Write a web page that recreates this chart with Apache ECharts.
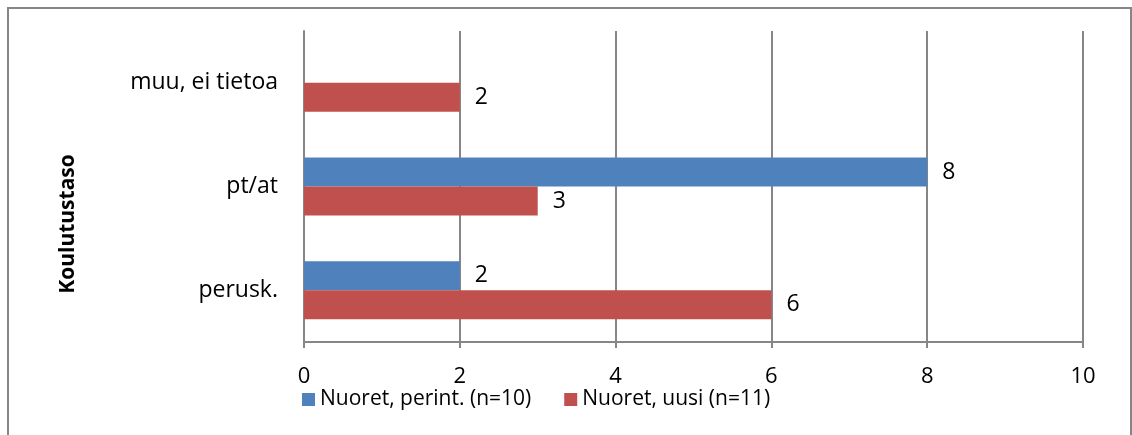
<!DOCTYPE html>
<html>
<head>
<meta charset="utf-8">
<script src="https://cdn.jsdelivr.net/npm/echarts@6/dist/echarts.min.js"></script>
<style>
  html, body { margin: 0; padding: 0; background: #fff; }
  #main { width: 1132px; height: 435px; }
</style>
</head>
<body>
<div id="main"></div>
<script>
// data
var categories = ['perusk.', 'pt/at', 'muu, ei tietoa']
var perint = [2, 8, null]
var uusi = [6, 3, 2]
var seriesNames = ['Nuoret, perint. (n=10)', 'Nuoret, uusi (n=11)']
var xTicks = [0, 2, 4, 6, 8, 10]

var font = '"Open Sans", "Noto Sans", sans-serif'
var gray = '#868686'

var myChart = echarts.init(document.getElementById('main'))
var label = {
  show: true,
  position: 'right',
  distance: 15,
  fontSize: 23,
  fontFamily: font,
  color: '#000'
}
var option = {
  animation: false,
  textStyle: { fontFamily: font },
  graphic: [{
    type: 'rect',
    shape: { x: 8, y: 8, width: 1123, height: 440 },
    style: { fill: 'none', stroke: gray, lineWidth: 2 }
  }],
  legend: {
    data: seriesNames,
    left: 297,
    top: 384,
    itemWidth: 13,
    itemHeight: 13,
    itemGap: 33,
    icon: 'rect',
    textStyle: { fontSize: 21, fontFamily: font, color: '#000' }
  },
  grid: { left: 304, right: 49, top: 31, bottom: 93 },
  xAxis: {
    type: 'value',
    min: xTicks[0],
    max: xTicks[xTicks.length - 1],
    interval: 2,
    axisLine: { show: true, lineStyle: { color: gray, width: 2 } },
    axisTick: { show: true, length: 6, lineStyle: { color: gray, width: 2 } },
    splitLine: { show: true, lineStyle: { color: gray, width: 2 } },
    axisLabel: { fontSize: 22, color: '#000', margin: 24, fontFamily: font }
  },
  yAxis: {
    type: 'category',
    data: categories,
    name: 'Koulutustaso',
    nameLocation: 'middle',
    nameGap: 225,
    nameTextStyle: { fontSize: 21, fontWeight: 'bold', color: '#000', fontFamily: font, padding: [0, 75, 0, 0] },
    axisLine: { show: true, lineStyle: { color: gray, width: 2 } },
    axisTick: { show: false },
    axisLabel: { fontSize: 23, color: '#000', margin: 26, fontFamily: font }
  },
  series: [
    {
      name: seriesNames[0],
      type: 'bar',
      data: perint,
      itemStyle: { color: '#4F81BD' },
      barGap: '0%',
      barCategoryGap: '44%',
      label: label
    },
    {
      name: seriesNames[1],
      type: 'bar',
      data: uusi,
      itemStyle: { color: '#C0504D' },
      barGap: '0%',
      barCategoryGap: '44%',
      label: label
    }
  ]
}
myChart.setOption(option)
</script>
</body>
</html>
